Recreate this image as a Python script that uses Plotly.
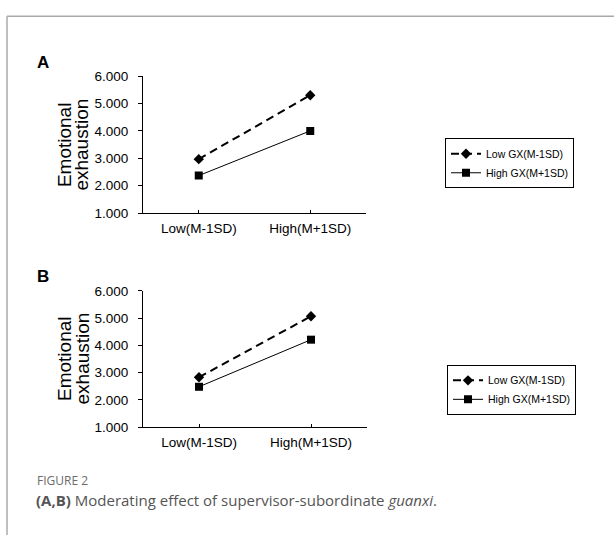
import plotly.graph_objects as go

categories = ["Low(M-1SD)", "High(M+1SD)"]
series_names = ["Low GX(M-1SD)", "High GX(M+1SD)"]
a_low_gx = [2.97, 5.30]
a_high_gx = [2.37, 4.00]
b_low_gx = [2.83, 5.07]
b_high_gx = [2.48, 4.21]
y_ticks = [1, 2, 3, 4, 5, 6]
y_tick_labels = ["1.000", "2.000", "3.000", "4.000", "5.000", "6.000"]

W, H = 614, 543
def px(x): return x / W
def py(y): return 1 - y / H

fig = go.Figure()
xs = [0, 1]

panels = [("x", "y", "legend", a_low_gx, a_high_gx),
          ("x2", "y2", "legend2", b_low_gx, b_high_gx)]
for xa, ya, lg, low, high in panels:
    fig.add_trace(go.Scatter(x=xs, y=low, xaxis=xa, yaxis=ya, legend=lg,
                             name=series_names[0], mode="lines+markers",
                             line=dict(color="black", width=2, dash="8px,5px"),
                             marker=dict(symbol="diamond", size=8, color="black")))
    fig.add_trace(go.Scatter(x=xs, y=high, xaxis=xa, yaxis=ya, legend=lg,
                             name=series_names[1], mode="lines+markers",
                             line=dict(color="black", width=1),
                             marker=dict(symbol="square", size=8, color="black")))

axis_font = dict(family="Arial, Liberation Sans", size=13.5, color="black")
xcommon = dict(range=[-0.5, 1.5], tickvals=[0, 1, 1.5], ticktext=[categories[0], categories[1], ""],
               showline=True, linecolor="black", linewidth=1, ticks="inside", ticklen=3,
               tickcolor="black", showgrid=False, zeroline=False, tickfont=axis_font,
               ticklabelstandoff=3)
ycommon = dict(range=[1, 6], tickvals=y_ticks, ticktext=y_tick_labels,
               showline=True, linecolor="black", linewidth=1, ticks="outside", ticklen=4,
               tickcolor="black", showgrid=False, zeroline=False, tickfont=axis_font,
               ticklabelstandoff=7)

fig.update_layout(
    width=W, height=H, margin=dict(l=0, r=0, t=0, b=0),
    paper_bgcolor="white", plot_bgcolor="white",
    xaxis=dict(domain=[px(143), px(366)], anchor="y", **xcommon),
    yaxis=dict(domain=[py(212), py(71)], anchor="x", **ycommon),
    xaxis2=dict(domain=[px(143), px(367)], anchor="y2", **xcommon),
    yaxis2=dict(domain=[py(432), py(292)], anchor="x2", **ycommon),
    legend=dict(x=px(445), y=py(135), xanchor="left", yanchor="top",
                bordercolor="black", borderwidth=1, bgcolor="white",
                font=dict(family="Arial, Liberation Sans", size=10.5, color="black"),
                itemwidth=30, tracegroupgap=0),
    legend2=dict(x=px(447), y=py(368), xanchor="left", yanchor="top",
                 bordercolor="black", borderwidth=1, bgcolor="white",
                 font=dict(family="Arial, Liberation Sans", size=10.5, color="black"),
                 itemwidth=30, tracegroupgap=0),
    showlegend=True,
)

ann = []
for label, ly, cy in [("A", 57, 142), ("B", 277, 362)]:
    ann.append(dict(text="<b>%s</b>" % label, x=px(35), y=py(ly), xref="paper", yref="paper",
                    xanchor="left", yanchor="middle", showarrow=False,
                    font=dict(family="Arial, Liberation Sans", size=17, color="black")))
    ann.append(dict(text="Emotional", x=px(64), y=py(cy), xref="paper", yref="paper",
                    xanchor="center", yanchor="middle", textangle=-90, showarrow=False,
                    font=dict(family="Arial, Liberation Sans", size=19, color="black")))
    ann.append(dict(text="exhaustion", x=px(81.5), y=py(cy), xref="paper", yref="paper",
                    xanchor="center", yanchor="middle", textangle=-90, showarrow=False,
                    font=dict(family="Arial, Liberation Sans", size=19, color="black")))

ann.append(dict(text="FIGURE 2", x=px(35), y=py(487), xref="paper", yref="paper",
                xanchor="left", yanchor="middle", showarrow=False,
                font=dict(family="Open Sans", size=12, color="#6b6b6b")))
ann.append(dict(text="<b>(A,B)</b> Moderating effect of supervisor-subordinate <i>guanxi</i>.",
                x=px(34), y=py(507), xref="paper", yref="paper",
                xanchor="left", yanchor="middle", showarrow=False,
                font=dict(family="Open Sans", size=15, color="#555555")))
fig.update_layout(annotations=ann)

fig.update_layout(shapes=[
    dict(type="line", xref="paper", yref="paper", x0=px(7), x1=1.0, y0=py(9.5), y1=py(9.5),
         line=dict(color="#aaaaaa", width=1.5)),
    dict(type="line", xref="paper", yref="paper", x0=px(7), x1=px(7), y0=py(9.5), y1=0,
         line=dict(color="#aaaaaa", width=1.5)),
])

fig.write_html("out.html", config={"displayModeBar": False},
               post_script="document.body.style.margin='0px';")
